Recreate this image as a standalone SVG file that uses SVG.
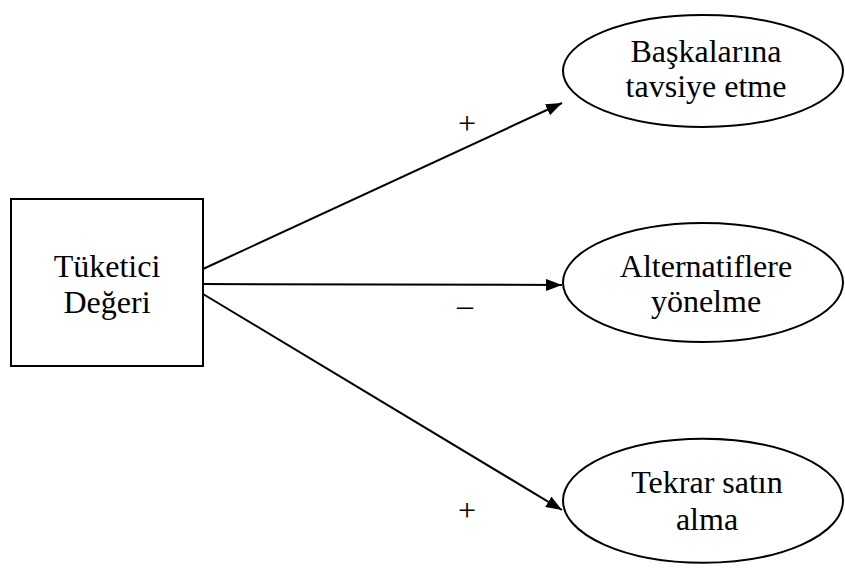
<svg xmlns="http://www.w3.org/2000/svg" width="845" height="568" viewBox="0 0 845 568">
<style>
.shape{fill:#fff;stroke:#000;stroke-width:2}
.t{font-family:"Liberation Serif","Times New Roman",serif;font-size:32px;fill:#000;text-anchor:middle}
.edge{stroke:#000;stroke-width:2;fill:none;marker-end:url(#ah)}
</style>
<defs>
<marker id="ah" markerUnits="userSpaceOnUse" markerWidth="18" markerHeight="14" refX="16" refY="6" orient="auto">
<path d="M0,0 L16,6 L0,12 Z" fill="#000"/>
</marker>
</defs>
<rect width="845" height="568" fill="#fff"/>
<g id="connectors">
<line class="edge" x1="203" y1="269" x2="562" y2="103"/>
<line class="edge" x1="203" y1="284" x2="562" y2="285"/>
<line class="edge" x1="203" y1="294" x2="562" y2="510"/>
<text class="t" x="467" y="134">+</text>
<text class="t" x="465" y="316">–</text>
<text class="t" x="467" y="521">+</text>
</g>
<g id="tuketici">
<rect class="shape" x="11" y="199" width="192" height="167"/>
<text class="t" x="107" y="277">Tüketici</text>
<text class="t" x="107" y="313">Değeri</text>
</g>
<g id="baskalarina">
<ellipse class="shape" cx="703" cy="71" rx="140" ry="56"/>
<text class="t" x="706" y="62">Başkalarına</text>
<text class="t" x="706" y="97">tavsiye etme</text>
</g>
<g id="alternatiflere">
<ellipse class="shape" cx="703" cy="282.5" rx="140" ry="59.5"/>
<text class="t" x="706" y="277">Alternatiflere</text>
<text class="t" x="706" y="312">yönelme</text>
</g>
<g id="tekrar">
<ellipse class="shape" cx="703" cy="500.7" rx="140" ry="62"/>
<text class="t" x="707" y="493">Tekrar satın</text>
<text class="t" x="707" y="530">alma</text>
</g>
</svg>
